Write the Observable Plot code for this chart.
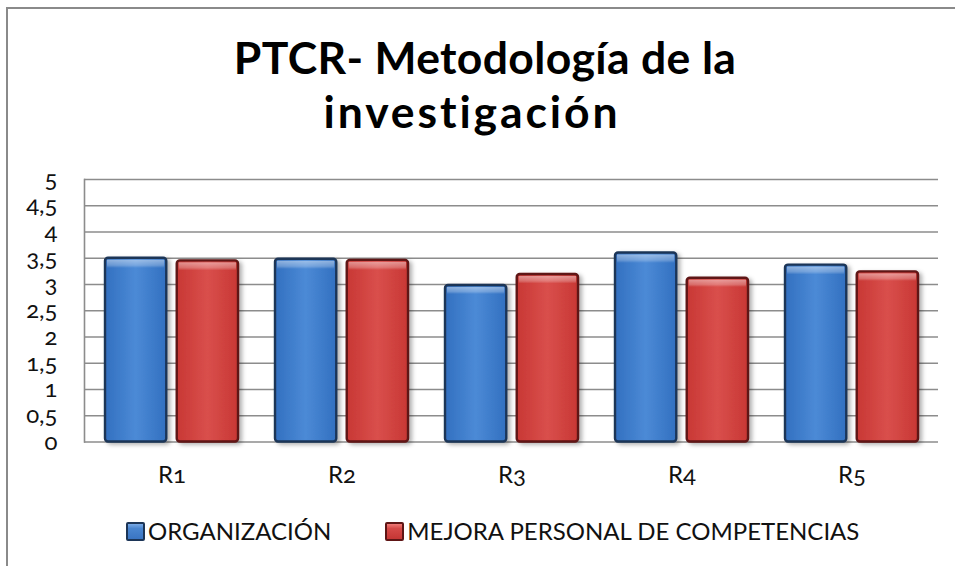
<!DOCTYPE html>
<html><head><meta charset="utf-8">
<script src="https://cdn.jsdelivr.net/npm/d3@7"></script>
<script src="https://cdn.jsdelivr.net/npm/@observablehq/plot@0.6"></script>
<style>
body{margin:0;background:#fff;}
#wrap{position:relative;width:955px;height:566px;overflow:hidden;font-family:Lato,"Open Sans",sans-serif;color:#000;}
#frame{position:absolute;left:6px;top:7px;width:1000px;height:700px;border-left:2px solid #8a8a8a;border-top:2px solid #8a8a8a;}
.tl{position:absolute;top:30px;width:700px;text-align:center;font-weight:bold;font-size:44.5px;line-height:54px;white-space:nowrap;}
#t1{left:135px;letter-spacing:0.35px;}
#t2{left:122px;top:84px;letter-spacing:2.9px;font-variant-ligatures:none;}
#chart{position:absolute;left:0;top:150px;}
#legend{position:absolute;left:126px;top:519px;display:flex;align-items:center;font-size:24px;line-height:24px;color:#111;white-space:nowrap;}
.mk{display:inline-block;width:15px;height:15px;border-radius:2px;margin-right:3px;}
.mk.b{border:2px solid #1c3557;background:linear-gradient(to bottom,#7aaae6 0,#4a86d0 30%,#3a74c2 100%);}
.mk.r{border:2px solid #5e1515;background:linear-gradient(to bottom,#f07a77 0,#d64a48 30%,#c53634 100%);}
</style>
</head><body>
<div id="wrap">
  <div id="frame"></div>
  <div class="tl" id="t1">PTCR- Metodología de la</div>
  <div class="tl" id="t2">investigación</div>
  <div id="chart"></div>
  <div id="legend"></div>
</div>
<script>
const categories = ["R1", "R2", "R3", "R4", "R5"];
const seriesNames = ["ORGANIZACIÓN", "MEJORA PERSONAL DE COMPETENCIAS"];
const organizacion = [3.5, 3.48, 2.98, 3.6, 3.37];
const mejora = [3.45, 3.46, 3.19, 3.12, 3.24];
const yTicks = [0, 0.5, 1, 1.5, 2, 2.5, 3, 3.5, 4, 4.5, 5];

const rows = categories.map((c, i) => ({cat: c, org: organizacion[i], mej: mejora[i]}));

const W = 955, H = 345;
const mL = 84, mR = 17, mT = 29, mB = 53.5;
const pIn = 0.22, pOut = 0.11;
const step = (W - mL - mR) / (categories.length - pIn + 2 * pOut);
const band = step * (1 - pIn);
const barW = 61.5;
const inset = band - barW;

const plot = Plot.plot({
  width: W, height: H,
  marginLeft: mL, marginRight: mR, marginTop: mT, marginBottom: mB,
  style: {fontFamily: "Lato, 'Open Sans', sans-serif", color: "#111", background: "transparent"},
  x: {domain: categories, paddingInner: pIn, paddingOuter: pOut, label: null},
  y: {domain: [0, 5], label: null},
  marks: [
    Plot.ruleY(yTicks, {stroke: "#8c8c8c", strokeWidth: 1.6}),
    Plot.frame({anchor: "left", stroke: "#8c8c8c", strokeWidth: 1.6}),
    Plot.barY(rows, {x: "cat", y: "org", fill: "url(#gBlue)", stroke: "#1c3557", strokeWidth: 2.4, rx: 3, insetRight: inset}),
    Plot.barY(rows, {x: "cat", y: "mej", fill: "url(#gRed)", stroke: "#5e1515", strokeWidth: 2.4, rx: 3, insetLeft: inset}),
    Plot.barY(rows, {x: "cat", y: "org", fill: "url(#gHi)", insetRight: inset + 2, insetLeft: 2, insetTop: 2}),
    Plot.barY(rows, {x: "cat", y: "mej", fill: "url(#gHi)", insetLeft: inset + 2, insetRight: 2, insetTop: 2}),
    Plot.axisX({tickSize: 0, tickPadding: 24, fontSize: 24, label: null, fill: "#111"}),
    Plot.axisY({ticks: yTicks, tickFormat: d => String(d).replace(".", ","), tickSize: 0, tickPadding: 27, fontSize: 24, label: null, fill: "#111"})
  ]
});

const svg = d3.select(plot);
const defs = svg.insert("defs", ":first-child");
function hgrad(id, edge, mid) {
  const g = defs.append("linearGradient").attr("id", id).attr("x1", 0).attr("x2", 1).attr("y1", 0).attr("y2", 0);
  g.append("stop").attr("offset", 0).attr("stop-color", edge);
  g.append("stop").attr("offset", 0.5).attr("stop-color", mid);
  g.append("stop").attr("offset", 1).attr("stop-color", edge);
}
hgrad("gBlue", "#3270c0", "#4c8ad6");
hgrad("gRed", "#c83734", "#d94f4c");
const hi = defs.append("linearGradient").attr("id", "gHi").attr("x1", 0).attr("x2", 0).attr("y1", 0).attr("y2", 1);
hi.append("stop").attr("offset", 0).attr("stop-color", "#fff").attr("stop-opacity", 0.45);
hi.append("stop").attr("offset", 0.03).attr("stop-color", "#fff").attr("stop-opacity", 0.25);
hi.append("stop").attr("offset", 0.045).attr("stop-color", "#fff").attr("stop-opacity", 0);
hi.append("stop").attr("offset", 1).attr("stop-color", "#fff").attr("stop-opacity", 0);
const f = defs.append("filter").attr("id", "sh").attr("x", "-20%").attr("y", "-20%").attr("width", "150%").attr("height", "150%");
f.append("feDropShadow").attr("dx", 3).attr("dy", 2).attr("stdDeviation", 2).attr("flood-color", "#000").attr("flood-opacity", 0.3);
const bars = svg.selectAll('g[aria-label="bar"]').nodes();
if (bars[0]) d3.select(bars[0]).attr("filter", "url(#sh)");
if (bars[1]) d3.select(bars[1]).attr("filter", "url(#sh)");
svg.selectAll('g[aria-label^="x-axis"] text, g[aria-label^="y-axis"] text').style("font-variant-numeric", "oldstyle-nums");

document.getElementById("chart").appendChild(plot);

const legend = d3.select("#legend");
seriesNames.forEach((s, i) => {
  const item = legend.append("span").style("display", "inline-flex").style("align-items", "center")
    .style("margin-right", i === 0 ? "54px" : "0");
  item.append("span").attr("class", "mk " + (i === 0 ? "b" : "r"));
  item.append("span").text(s);
});
</script>
</body></html>
